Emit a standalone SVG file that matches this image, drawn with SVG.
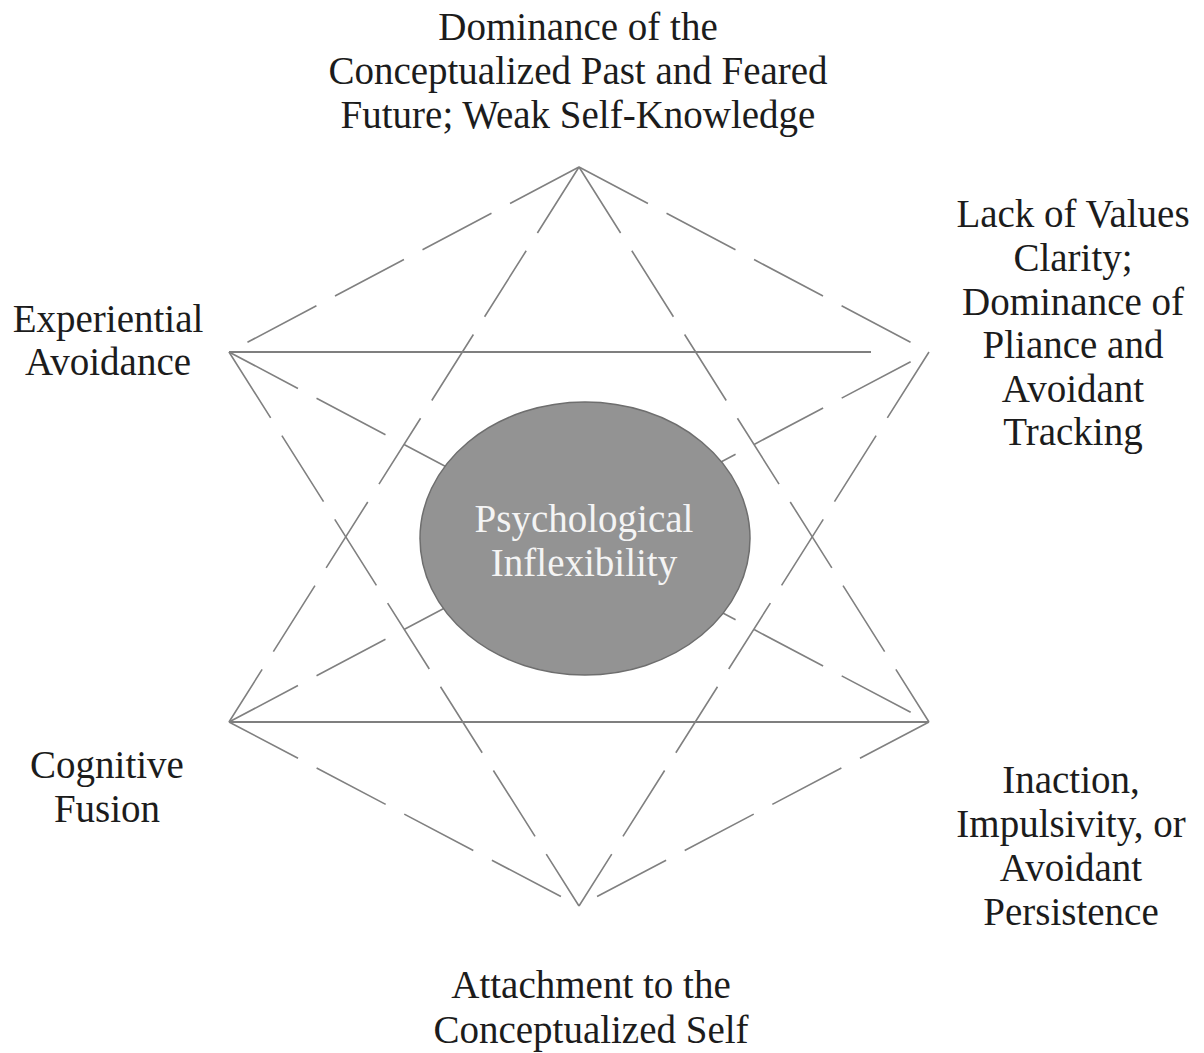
<svg xmlns="http://www.w3.org/2000/svg" width="1204" height="1053" viewBox="0 0 1204 1053">
<style>
.lbl{font-family:"Liberation Serif","Times New Roman",serif;font-size:39px;fill:#1c1c1c;text-anchor:middle}
.core{font-family:"Liberation Serif","Times New Roman",serif;font-size:39px;fill:#f4f4f4;text-anchor:middle}
.dash{stroke:#808080;stroke-width:1.6;fill:none;stroke-dasharray:78 21}
.solid{stroke:#7f7f7f;stroke-width:2.2;fill:none}
</style>
<rect width="1204" height="1053" fill="#ffffff"/>
<g id="connectors">
<path class="dash" d="M579,167 L229,352"/>
<path class="dash" d="M579,167 L929,352"/>
<path class="dash" d="M229,722 L579,906"/>
<path class="dash" d="M929,722 L579,906"/>
<path class="dash" d="M579,167 L229,722"/>
<path class="dash" d="M579,167 L929,722"/>
<path class="dash" d="M229,352 L579,906"/>
<path class="dash" d="M929,352 L579,906"/>
<path class="dash" d="M229,352 L929,722"/>
<path class="dash" d="M229,722 L929,352"/>
<path class="solid" d="M229,352 L871,352"/>
<path class="solid" d="M229,722 L929,722"/>
</g>
<g id="center">
<ellipse cx="585" cy="538.5" rx="165" ry="136.5" fill="#939393" stroke="#6e6e6e" stroke-width="1.5"/>
<text class="core" x="584" y="532">Psychological</text>
<text class="core" x="584" y="576">Inflexibility</text>
</g>
<g id="top">
<text class="lbl" x="578" y="40">Dominance of the</text>
<text class="lbl" x="578" y="84">Conceptualized Past and Feared</text>
<text class="lbl" x="578" y="128">Future; Weak Self-Knowledge</text>
</g>
<g id="upper-right">
<text class="lbl" x="1073" y="227">Lack of Values</text>
<text class="lbl" x="1073" y="271">Clarity;</text>
<text class="lbl" x="1073" y="315">Dominance of</text>
<text class="lbl" x="1073" y="358">Pliance and</text>
<text class="lbl" x="1073" y="402">Avoidant</text>
<text class="lbl" x="1073" y="445">Tracking</text>
</g>
<g id="upper-left">
<text class="lbl" x="108" y="332">Experiential</text>
<text class="lbl" x="108" y="375">Avoidance</text>
</g>
<g id="lower-left">
<text class="lbl" x="107" y="778">Cognitive</text>
<text class="lbl" x="107" y="822">Fusion</text>
</g>
<g id="lower-right">
<text class="lbl" x="1071" y="793">Inaction,</text>
<text class="lbl" x="1071" y="837">Impulsivity, or</text>
<text class="lbl" x="1071" y="881">Avoidant</text>
<text class="lbl" x="1071" y="925">Persistence</text>
</g>
<g id="bottom">
<text class="lbl" x="591" y="998">Attachment to the</text>
<text class="lbl" x="591" y="1043">Conceptualized Self</text>
</g>
</svg>
